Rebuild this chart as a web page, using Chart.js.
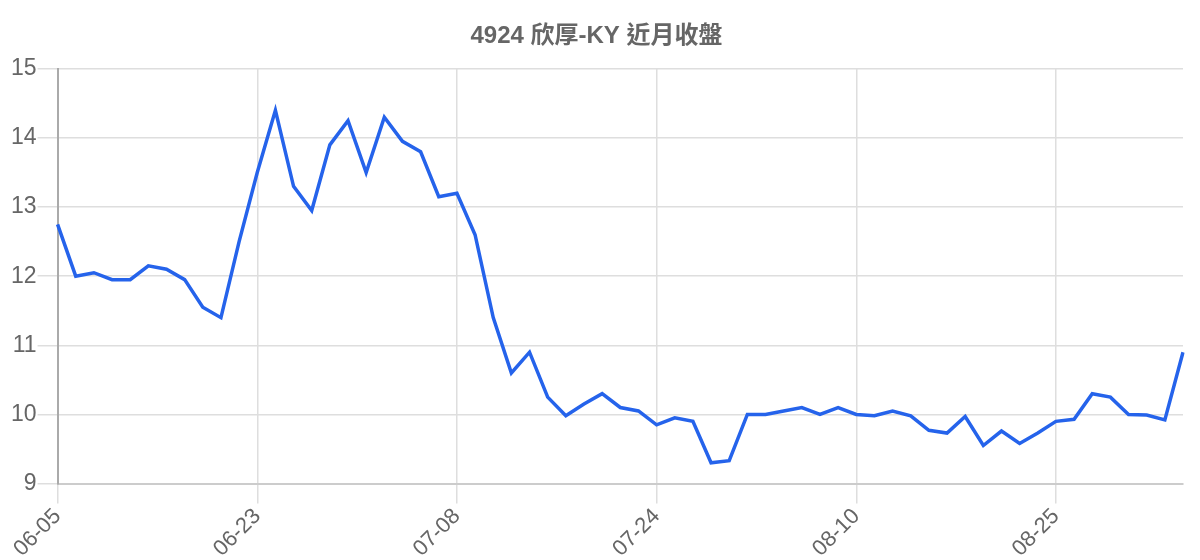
<!DOCTYPE html>
<html>
<head>
<meta charset="utf-8">
<script src="https://cdn.jsdelivr.net/npm/chart.js@4/dist/chart.umd.min.js"></script>
<style>
  html, body { margin: 0; padding: 0; background: #fff; }
  #wrap { width: 1200px; height: 560px; }
</style>
</head>
<body>
<div id="wrap"><canvas id="grafico"></canvas></div>
<script>
const titulo = '4924 欣厚-KY 近月收盤';

const fechas = [
  '06-05','06-06','06-09','06-10','06-11','06-12','06-16','06-17','06-18','06-19','06-20',
  '06-23','06-24','06-25','06-26','06-27','06-30','07-01','07-02','07-03','07-04','07-07',
  '07-08','07-09','07-10','07-11','07-14','07-15','07-16','07-17','07-18','07-21','07-22',
  '07-24','07-25','07-28','07-29','07-30','07-31','08-01','08-04','08-05','08-06','08-07',
  '08-10','08-11','08-12','08-13','08-14','08-15','08-18','08-19','08-20','08-21','08-22',
  '08-25','08-26','08-27','08-28','08-29','09-01','09-02','09-03'
];

const cierres = [
  12.75, 12.0, 12.05, 11.95, 11.95, 12.15, 12.1, 11.95, 11.55, 11.4,
  12.5, 13.5, 14.4, 13.3, 12.95, 13.9, 14.25, 13.5, 14.3, 13.95,
  13.8, 13.15, 13.2, 12.6, 11.4, 10.6, 10.9, 10.25, 9.98, 10.15,
  10.3, 10.1, 10.05, 9.85, 9.95, 9.9, 9.3, 9.33, 10.0, 10.0,
  10.05, 10.1, 10.0, 10.1, 10.0, 9.98, 10.05, 9.98, 9.77, 9.73,
  9.97, 9.55, 9.76, 9.58, 9.73, 9.9, 9.93, 10.3, 10.25, 10.0,
  9.99, 9.92, 10.9
];

const cadaN = 11; // one label every 11 sessions

Chart.defaults.font.family = '"Liberation Sans", Arial, "Noto Sans CJK TC", sans-serif';

new Chart(document.getElementById('grafico'), {
  type: 'line',
  data: {
    labels: fechas,
    datasets: [{
      label: '收盤',
      data: cierres,
      borderColor: '#2563eb',
      backgroundColor: '#2563eb',
      borderWidth: 3.5,
      pointRadius: 0,
      tension: 0,
      fill: false
    }]
  },
  options: {
    responsive: true,
    maintainAspectRatio: false,
    animation: false,
    layout: { padding: { left: 10, right: 17, top: 0, bottom: -2 } },
    scales: {
      x: {
        grid: {
          color: '#dedede',
          lineWidth: 1.5,
          tickLength: 20
        },
        border: { color: '#cccccc', width: 2 },
        ticks: {
          autoSkip: false,
          maxRotation: 45,
          minRotation: 45,
          color: '#666',
          font: { size: 22 },
          padding: 0,
          callback: (v, i) => i % cadaN === 0 ? fechas[i] : null
        }
      },
      y: {
        min: 9,
        max: 15,
        grid: { color: '#dedede', lineWidth: 1.5, tickLength: 20 },
        border: { color: '#aaaaaa', width: 2 },
        ticks: {
          stepSize: 1,
          color: '#666',
          font: { size: 23 },
          padding: 1
        }
      }
    },
    plugins: {
      legend: { display: false },
      tooltip: { enabled: false },
      title: {
        display: true,
        text: titulo,
        color: '#666',
        font: { size: 24, weight: 'bold' },
        padding: { top: 22, bottom: 18 }
      }
    }
  }
});
</script>
</body>
</html>
